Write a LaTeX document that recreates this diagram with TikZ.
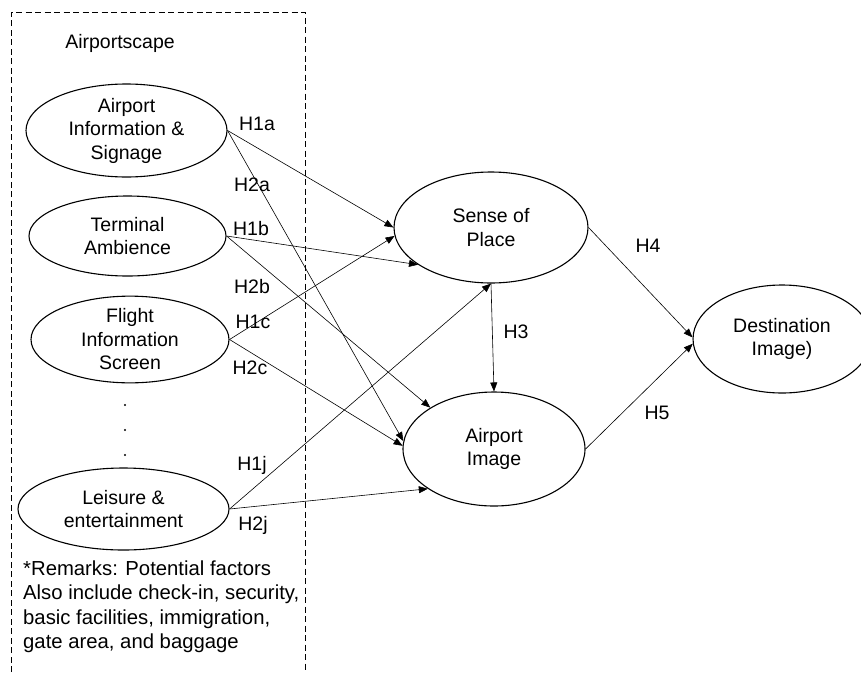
\documentclass[tikz,border=0pt]{standalone}
\usepackage{fontspec}
\setmainfont{Liberation Sans}
\usetikzlibrary{shapes.geometric,arrows.meta}
\tikzset{
    factor/.style={ellipse,draw,line width=1.1pt,inner sep=0pt,align=center,
        font=\fontsize{19.5}{23.5}\selectfont},
    path/.style={line width=0.6pt,-{Triangle[length=9pt,width=7pt]}},
    hyp/.style={font=\fontsize{19.5}{23.5}\selectfont}
}

\begin{document}
\begin{tikzpicture}[x=1pt,y=-1pt]
    \useasboundingbox (0,0) rectangle (861,672);
    % airportscape box
    \draw [line width=1pt,dash pattern=on 6pt off 3.5pt] (11,672)--(11,12)--(305,12)--(305,672);
    \node[hyp] (scape) at (120,43) {Airportscape};

    \node[factor,minimum width=201pt,minimum height=93pt] (ais) at (126.5,130.5) {Airport\\Information \&\\Signage};
    \node[factor,minimum width=197pt,minimum height=80pt] (ta) at (127.5,236) {Terminal\\Ambience};
    \node[factor,minimum width=198pt,minimum height=81pt] (fis) at (130,339.5) {Flight\\Information\\Screen};
    \fill (125,405) circle (1.1);
    \fill (125,430) circle (1.1);
    \fill (125,455) circle (1.1);
    \node[factor,minimum width=211pt,minimum height=82pt] (le) at (123.5,509) {Leisure \&\\entertainment};
    \node[hyp,align=left,anchor=north west,inner sep=0pt,font=\fontsize{20.3}{24.4}\selectfont] (remarks) at (23,560.5)
        {*Remarks: Potential factors\\Also include check-in, security,\\basic facilities, immigration,\\gate area, and baggage};

    \node[factor,minimum width=194pt,minimum height=111pt] (sop) at (491,227.5) {Sense of\\Place};
    \node[factor,minimum width=182pt,minimum height=114pt] (ai) at (494,449) {Airport\\Image};
    \node[factor,minimum width=178pt,minimum height=108pt] (di) at (782,339) {Destination\\Image)};

    % paths
    \draw[path] (ais.east) -- (sop.west);
    \draw[path] (ais.east) -- (ai.175);
    \draw[path] (ta.east) -- (sop.207);
    \draw[path] (ta.east) -- (ai.147);
    \draw[path] (fis.east) -- (sop.185);
    \draw[path] (fis.east) -- (ai.178);
    \draw[path] (le.east) -- (sop.south);
    \draw[path] (le.east) -- (ai.211);
    \draw[path] (sop.south) -- (ai.north);
    \draw[path] (sop.east) -- (di.179);
    \draw[path] (ai.east) -- (di.183);

    \node[hyp] (h1a) at (257,124) {H1a};
    \node[hyp] (h2a) at (252,185) {H2a};
    \node[hyp] (h1b) at (251,229) {H1b};
    \node[hyp] (h2b) at (252,287) {H2b};
    \node[hyp] (h1c) at (253,322) {H1c};
    \node[hyp] (h2c) at (250,368) {H2c};
    \node[hyp] (h1j) at (252,465) {H1j};
    \node[hyp] (h2j) at (253,525) {H2j};
    \node[hyp] (h3) at (516,332) {H3};
    \node[hyp] (h4) at (648,246) {H4};
    \node[hyp] (h5) at (657,413) {H5};
\end{tikzpicture}
\end{document}
